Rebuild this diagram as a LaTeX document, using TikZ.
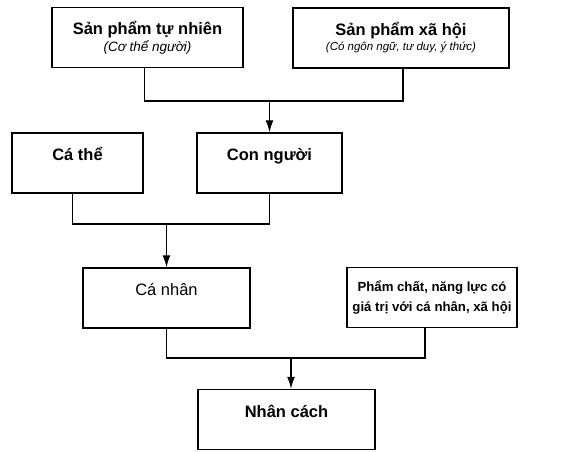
\documentclass[tikz,border=0pt]{standalone}
\usepackage{fontspec}
\setmainfont{Liberation Sans}
\usetikzlibrary{arrows.meta}
\usetikzlibrary{positioning}

\newcommand\chuthich[2]{{\fontsize{#1}{#1}\selectfont\mdseries\itshape #2}}

\begin{document}
\begin{tikzpicture}[x=1pt,y=-1pt,
  box/.style={draw,line width=1.5pt,align=center,inner sep=0pt,minimum height=60pt,
    font=\fontsize{16.5}{18}\selectfont\bfseries},
  onebox/.style={box,text height=12pt,text depth=17pt},
  noi/.style={line width=1.2pt},
  mui/.style={noi,-{Latex[length=12pt,width=8pt]}}]
  \useasboundingbox (0,0) rectangle (578,451);

  \node[box,minimum width=191pt] (spTN) at (147.5,37.5) {Sản phẩm tự nhiên\\[-1pt]\chuthich{13.5}{(Cơ thể người)}};
  \node[box,minimum width=216pt] (spXH) at (401,38) {Sản phẩm xã hội\\[-3pt]\chuthich{11.5}{(Có ngôn ngữ, tư duy, ý thức)}};

  \node[onebox,minimum width=131pt] (caThe) at (77.5,163) {Cá thể};
  \node[onebox,minimum width=145pt] (conNguoi) at (269.5,163) {Con người};

  \node[onebox,minimum width=167pt,font=\fontsize{16.5}{18}\selectfont\mdseries] (caNhan) at (166.5,298) {Cá nhân};
  \node[box,minimum width=170pt,font=\fontsize{13.2}{20}\selectfont\bfseries] (phamChat) at (432,297.5) {Phẩm chất, năng lực có\\giá trị với cá nhân, xã hội};

  \node[onebox,minimum width=177pt] (nhanCach) at (286.5,419.5) {Nhân cách};

  \coordinate (n1) at (269.5,101);
  \coordinate (n2) at (166.5,224);
  \coordinate (n3) at (291,358);

  \draw[noi] ([xshift=-3pt]spTN.south) |- (n1) -| ([xshift=2pt]spXH.south);
  \draw[mui] (n1) -- (conNguoi.north);
  \draw[noi] ([xshift=-5pt]caThe.south) |- (n2) -| (conNguoi.south);
  \draw[mui] (n2) -- (caNhan.north);
  \draw[noi] (caNhan.south) |- (n3) -| ([xshift=-7pt]phamChat.south);
  \draw[mui] (n3) -- (n3 |- nhanCach.north);
\end{tikzpicture}
\end{document}
